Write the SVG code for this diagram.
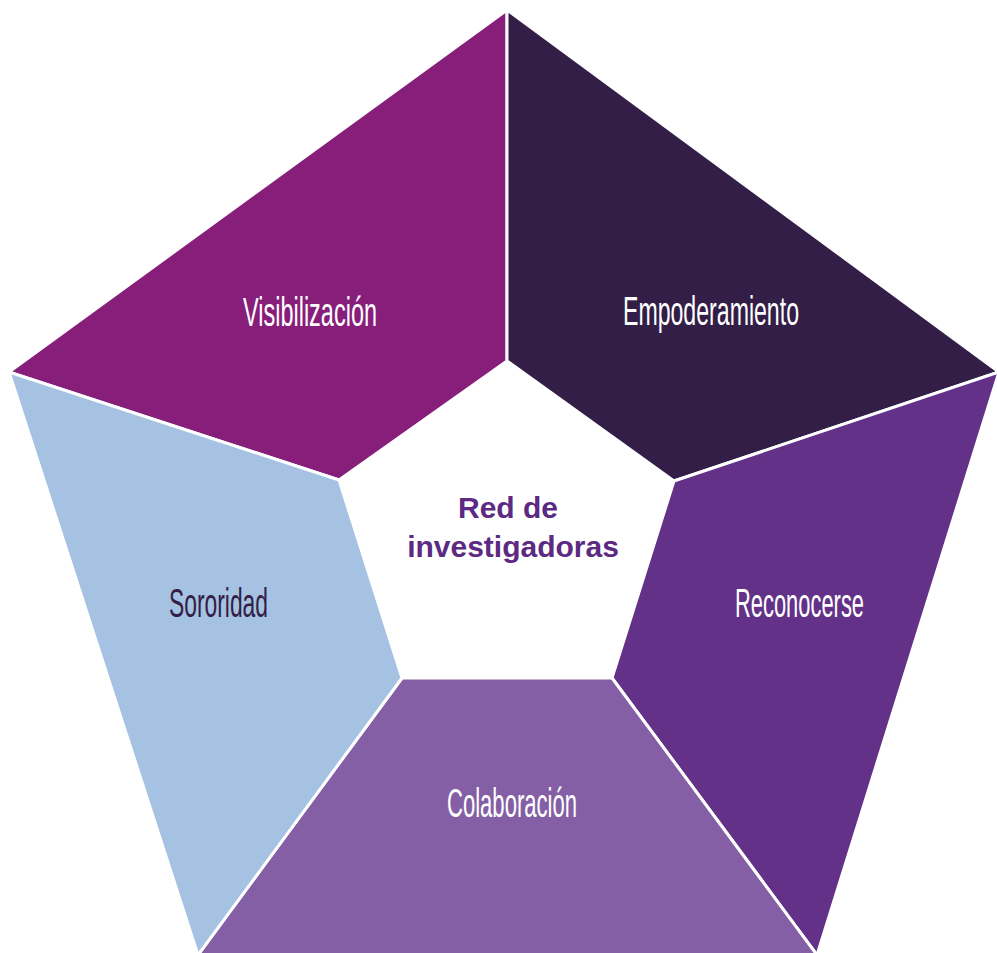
<svg xmlns="http://www.w3.org/2000/svg" width="997" height="953" viewBox="0 0 997 953">
<style>
.seg{stroke:#FFFFFF;stroke-width:3;stroke-linejoin:miter}
.lbl{font-family:"Liberation Sans Narrow","Liberation Sans",Arial,sans-serif;font-size:40px;text-anchor:start}
.ctr{font-family:"Liberation Sans",Arial,sans-serif;font-weight:bold;font-size:30px;fill:#5C2A82;text-anchor:middle}
</style>
<rect width="997" height="953" fill="#FFFFFF"/>
<g id="visibilizacion">
<polygon class="seg" fill="#861E7A" points="507,10 507,361 339,480 9,372"/>
<text class="lbl" x="243" y="326" fill="#FFFFFF" textLength="134" lengthAdjust="spacingAndGlyphs">Visibilización</text>
</g>
<g id="empoderamiento">
<polygon class="seg" fill="#321E47" points="507,10 999,372 674,481 507,361"/>
<text class="lbl" x="623" y="325" fill="#FFFFFF" textLength="176" lengthAdjust="spacingAndGlyphs">Empoderamiento</text>
</g>
<g id="reconocerse">
<polygon class="seg" fill="#633288" points="999,372 817,955 612,678 674,481"/>
<text class="lbl" x="735" y="617" fill="#FFFFFF" textLength="129" lengthAdjust="spacingAndGlyphs">Reconocerse</text>
</g>
<g id="colaboracion">
<polygon class="seg" fill="#845FA5" points="612,678 817,955 198,955 402,678"/>
<text class="lbl" x="447" y="817" fill="#FFFFFF" textLength="130" lengthAdjust="spacingAndGlyphs">Colaboración</text>
</g>
<g id="sororidad">
<polygon class="seg" fill="#A6C2E2" points="402,678 198,955 9,372 339,480"/>
<text class="lbl" x="169" y="617" fill="#321E47" textLength="99" lengthAdjust="spacingAndGlyphs">Sororidad</text>
</g>
<g id="centro">
<polygon fill="#FFFFFF" points="507,361 674,481 612,678 402,678 339,480"/>
<text class="ctr" x="508" y="518">Red de</text>
<text class="ctr" x="513" y="557">investigadoras</text>
</g>
<g id="connectors"></g>
</svg>
